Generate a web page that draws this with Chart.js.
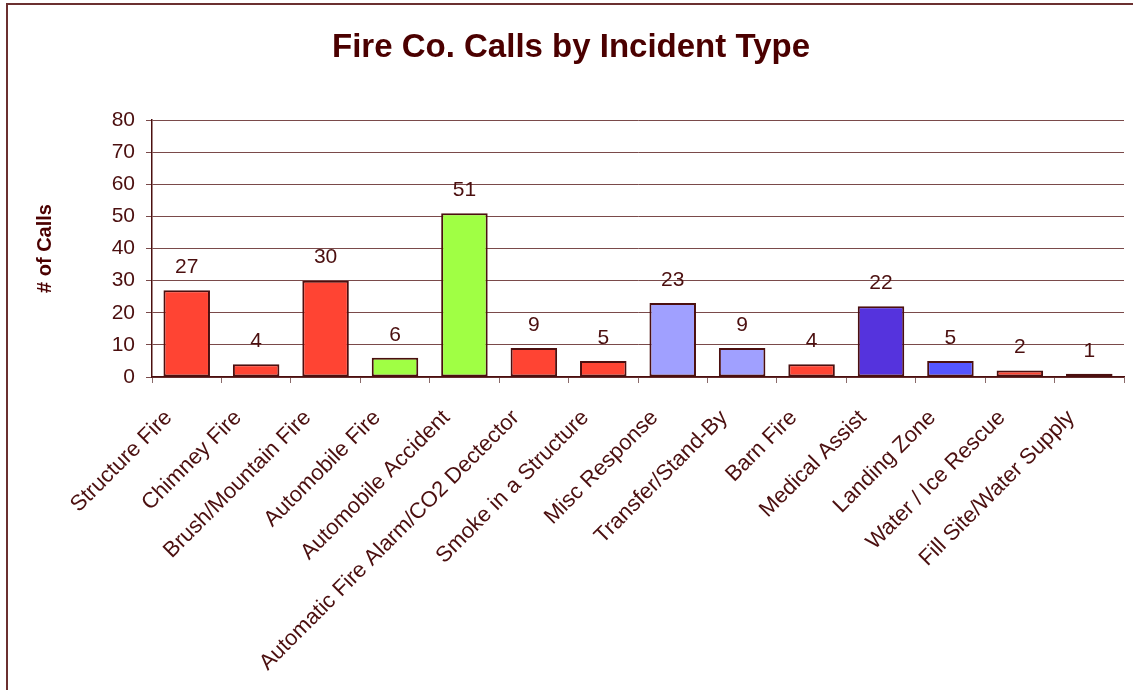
<!DOCTYPE html>
<html>
<head>
<meta charset="utf-8">
<script src="https://cdn.jsdelivr.net/npm/chart.js@4/dist/chart.umd.min.js"></script>
<style>
  html, body { margin: 0; padding: 0; background: #fff; }
  #wrap { width: 1133px; height: 690px; }
</style>
</head>
<body>
<div id="wrap"><canvas id="incidentChart"></canvas></div>
<script>
const incidentTypes = [
    'Structure Fire', 'Chimney Fire', 'Brush/Mountain Fire', 'Automobile Fire',
    'Automobile Accident', 'Automatic Fire Alarm/CO2 Dectector', 'Smoke in a Structure',
    'Misc Response', 'Transfer/Stand-By', 'Barn Fire', 'Medical Assist',
    'Landing Zone', 'Water / Ice Rescue', 'Fill Site/Water Supply'
];
const callCounts = [27, 4, 30, 6, 51, 9, 5, 23, 9, 4, 22, 5, 2, 1];
const yTicks = [0, 10, 20, 30, 40, 50, 60, 70, 80];

const red = '#ff4433';
const green = '#a0ff44';
const lavender = '#a0a0ff';
const barColors = [red, red, red, green, green, red, red, lavender, lavender, red, '#5533dd', '#5555ff', red, '#9988dd'];

const textColor = '#4b0f0f';
const fontFamily = '"Liberation Sans", Arial, sans-serif';

// marco superior e izquierdo como en el original
const framePlugin = {
    id: 'frame',
    beforeDraw(chart) {
        const ctx = chart.ctx;
        ctx.save();
        ctx.fillStyle = '#ffffff';
        ctx.fillRect(0, 0, chart.width, chart.height);
        ctx.strokeStyle = '#6b3030';
        ctx.lineWidth = 2;
        ctx.beginPath();
        ctx.moveTo(7, chart.height);
        ctx.lineTo(7, 4);
        ctx.lineTo(chart.width, 4);
        ctx.stroke();
        ctx.restore();
    }
};

// valores encima de cada barra
const valueLabels = {
    id: 'valueLabels',
    afterDatasetsDraw(chart) {
        const ctx = chart.ctx;
        const meta = chart.getDatasetMeta(0);
        ctx.save();
        ctx.font = '21px ' + fontFamily;
        ctx.fillStyle = textColor;
        ctx.textAlign = 'center';
        ctx.textBaseline = 'middle';
        meta.data.forEach((bar, i) => {
            ctx.fillText(String(chart.data.datasets[0].data[i]), bar.x, bar.y - 23);
        });
        ctx.restore();
    }
};

Chart.defaults.font.family = fontFamily;
Chart.defaults.color = textColor;

new Chart(document.getElementById('incidentChart'), {
    type: 'bar',
    data: {
        labels: incidentTypes,
        datasets: [{
            data: callCounts,
            backgroundColor: barColors,
            borderColor: '#4b0f0f',
            borderWidth: 2,
            borderSkipped: false,
            categoryPercentage: 1,
            barPercentage: 0.67
        }]
    },
    options: {
        responsive: true,
        maintainAspectRatio: false,
        animation: false,
        layout: { padding: { left: 18, right: 9, top: 0, bottom: 0 } },
        plugins: {
            legend: { display: false },
            tooltip: { enabled: false },
            title: {
                display: true,
                text: 'Fire Co. Calls by Incident Type',
                color: '#4b0000',
                font: { size: 33, weight: 'bold' },
                padding: { top: 28, bottom: 52.4 }
            }
        },
        scales: {
            x: {
                grid: {
                    display: true,
                    drawOnChartArea: false,
                    tickLength: 6,
                    color: '#8a6a6a'
                },
                border: { color: '#4b0f0f', width: 1.5 },
                ticks: {
                    autoSkip: false,
                    maxRotation: 45,
                    minRotation: 45,
                    padding: 22,
                    labelOffset: -18,
                    font: { size: 22 }
                },
                afterFit(scale) { scale.height = 313; }
            },
            y: {
                min: 0,
                max: 80,
                afterBuildTicks(scale) { scale.ticks = yTicks.map(v => ({ value: v })); },
                grid: { color: '#7a4a4a', tickLength: 6, lineWidth: 1 },
                border: { color: '#4b0f0f', width: 1.5 },
                ticks: { padding: 11, font: { size: 21 } },
                title: {
                    display: true,
                    text: '# of Calls',
                    color: '#4b0000',
                    font: { size: 20, weight: 'bold' },
                    padding: { top: 15, bottom: 0 }
                },
                afterFit(scale) { scale.width = 134; }
            }
        }
    },
    plugins: [framePlugin, valueLabels]
});
</script>
</body>
</html>
